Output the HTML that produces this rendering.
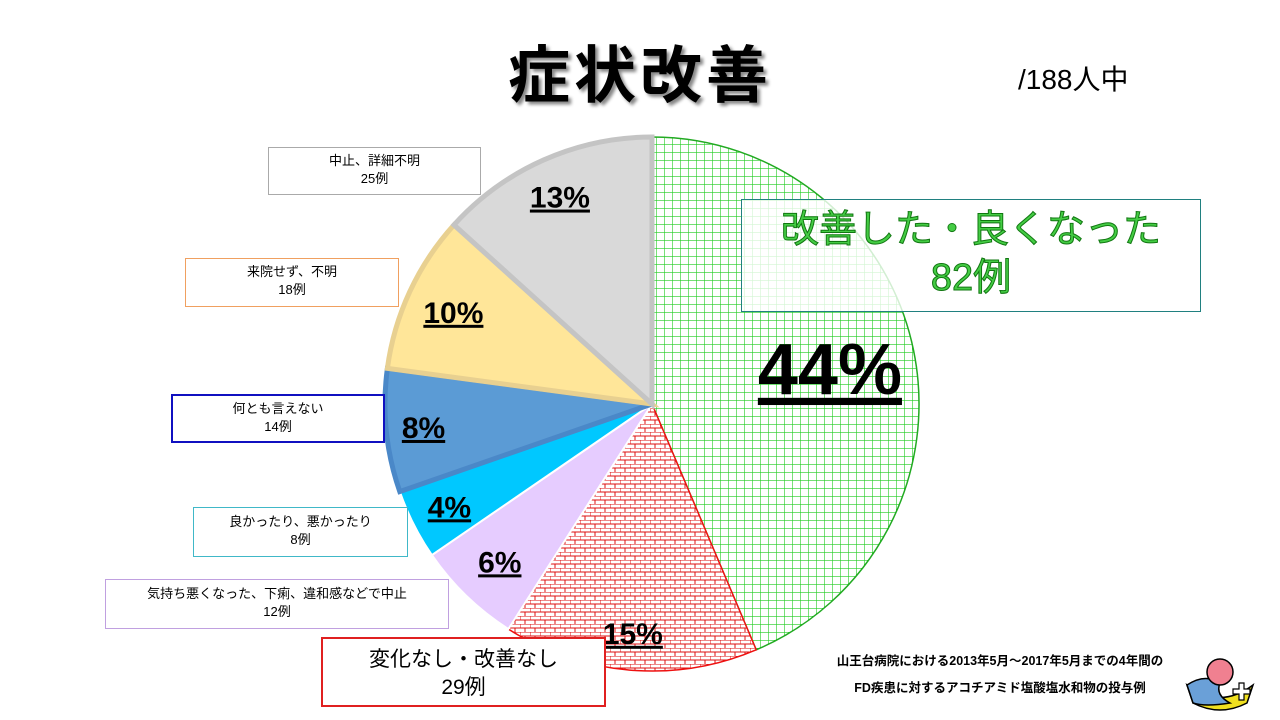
<!DOCTYPE html>
<html><head><meta charset="utf-8">
<style>
body{margin:0;width:1280px;height:720px;background:#fff;overflow:hidden;position:relative;font-family:"Liberation Sans","Noto Sans CJK JP",sans-serif;}
.box{position:absolute;background:#fff;text-align:center;font-size:13px;line-height:18px;color:#000;box-sizing:border-box;}
</style></head><body>
<div style="position:absolute;left:480px;top:25px;width:320px;text-align:center;font-size:62px;font-weight:bold;letter-spacing:4px;text-shadow:3px 3px 3px #888;">症状改善</div>
<div style="position:absolute;left:1018px;top:58px;font-size:28px;">/188人中</div>
<svg id="pie" width="1280" height="720" style="position:absolute;left:0;top:0">
<defs>
<pattern id="grid" width="8" height="8" patternUnits="userSpaceOnUse"><rect width="8" height="8" fill="#fff"/><path d="M0 0H8M0 0V8" stroke="#22cc22" stroke-width="1.2"/></pattern>
<pattern id="brick" width="10" height="8" patternUnits="userSpaceOnUse"><rect width="10" height="8" fill="#fff"/><path d="M0 0H10M0 4H10M0 0V4M5 4V8" stroke="#dd1111" stroke-width="1"/></pattern>
</defs>
</svg>
<div class="box" style="left:268px;top:147px;width:213px;height:48px;border:1px solid #aaa;padding-top:4px;">中止、詳細不明<br>25例</div>
<div class="box" style="left:185px;top:258px;width:214px;height:49px;border:1px solid #f0a060;padding-top:4px;">来院せず、不明<br>18例</div>
<div class="box" style="left:171px;top:394px;width:214px;height:49px;border:2px solid #1010c0;padding-top:4px;">何とも言えない<br>14例</div>
<div class="box" style="left:193px;top:507px;width:215px;height:50px;border:1px solid #40b8c8;padding-top:5px;">良かったり、悪かったり<br>8例</div>
<div class="box" style="left:105px;top:579px;width:344px;height:50px;border:1px solid #c0a0e0;padding-top:5px;">気持ち悪くなった、下痢、違和感などで中止<br>12例</div>
<div class="box" style="left:321px;top:637px;width:285px;height:70px;border:2px solid #e02020;font-size:21px;line-height:28px;padding-top:7px;">変化なし・改善なし<br>29例</div>
<div class="box" style="left:741px;top:199px;width:460px;height:113px;border:1px solid #208080;color:#44cc44;font-size:38px;line-height:48px;padding-top:6px;background:rgba(255,255,255,0.8);-webkit-text-stroke:1px #117711;">改善した・良くなった<br>82例</div>
<div style="position:absolute;left:800px;top:648px;width:400px;text-align:center;font-size:12.5px;line-height:27px;font-weight:bold;">山王台病院における2013年5月～2017年5月までの4年間の<br>FD疾患に対するアコチアミド塩酸塩水和物の投与例</div>
<svg width="70" height="60" style="position:absolute;left:1185px;top:655px">
<path d="M2 30 Q35 55 68 30 L62 48 Q35 62 8 48Z" fill="#f0e020" stroke="#000" stroke-width="1.5"/>
<path d="M2 30 Q20 18 35 28 Q30 40 45 48 Q20 52 8 48Z" fill="#6aa0d8" stroke="#000" stroke-width="1.5"/>
<circle cx="35" cy="17" r="13" fill="#f08090" stroke="#000" stroke-width="1.5"/>
<path d="M48 34h6v-6h5v6h6v5h-6v6h-5v-6h-6z" fill="#fff" stroke="#000" stroke-width="1.2"/>
</svg>
<script>
const categories=["改善した・良くなった","変化なし・改善なし","気持ち悪くなった等で中止","良かったり、悪かったり","何とも言えない","来院せず、不明","中止、詳細不明"];
const counts=[82,29,12,8,14,18,25];
const pctLabels=["44%","15%","6%","4%","8%","10%","13%"];
const fills=["url(#grid)","url(#brick)","#e6ccff","#00c8ff","#5b9bd5","#ffe699","#d9d9d9"];
const strokes=["#22aa22","#ee1111","#ffffff","#ffffff","#4a88c8","#e8d090","#c4c4c4"];
const labelR=[0.68,0.86,0.82,0.85,0.86,0.82,0.85];
const svg=document.getElementById('pie');
const NS="http://www.w3.org/2000/svg";
const cx=652,cy=404,R=267;
const total=counts.reduce((a,b)=>a+b,0);
function pt(a,r){return [cx+r*Math.sin(a),cy-r*Math.cos(a)];}
let acc=0;
counts.forEach((v,i)=>{
  const a0=acc/total*2*Math.PI; acc+=v; const a1=acc/total*2*Math.PI;
  const p0=pt(a0,R),p1=pt(a1,R);
  const path=document.createElementNS(NS,'path');
  path.setAttribute('d',`M${cx} ${cy}L${p0[0]} ${p0[1]}A${R} ${R} 0 ${a1-a0>Math.PI?1:0} 1 ${p1[0]} ${p1[1]}Z`);
  path.setAttribute('fill',fills[i]);path.setAttribute('stroke',strokes[i]);
  path.setAttribute('stroke-width',i>=4?5:(i<2?1.5:2));
  
  
  svg.appendChild(path);
  const am=(a0+a1)/2;
  const lp=pt(am,R*labelR[i]);
  const t=document.createElementNS(NS,'text');
  t.setAttribute('x',lp[0]);t.setAttribute('y',lp[1]+(i==0?26:11));
  t.setAttribute('text-anchor','middle');
  t.setAttribute('font-size',i==0?72:30);
  t.setAttribute('font-weight','bold');
  t.setAttribute('text-decoration','underline');
  t.setAttribute('font-family','Liberation Sans, sans-serif');
  t.textContent=pctLabels[i];
  
  
  svg.appendChild(t);
});
</script>
</body></html>
